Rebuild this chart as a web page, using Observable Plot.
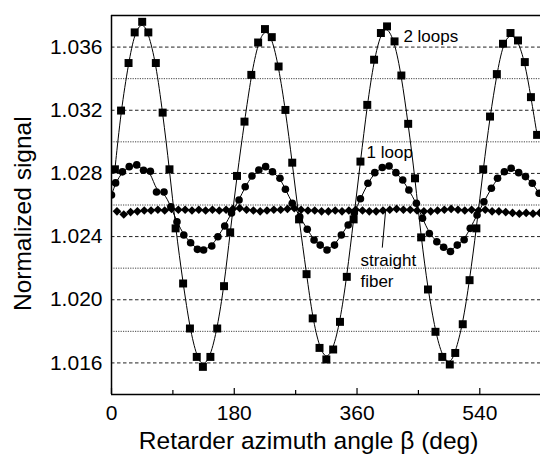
<!DOCTYPE html>
<html><head><meta charset="utf-8">
<script src="https://cdn.jsdelivr.net/npm/d3@7"></script>
<script src="https://cdn.jsdelivr.net/npm/@observablehq/plot@0.6"></script>
<style>body{margin:0;background:#fff;}</style>
</head><body><div id="chart"></div>
<script>
// 2 loops (squares)
const loop2X = [5,14,25,34,45,54,65,75,85,94,105,115,125,134,145,155,165,174,184,195,205,215,225,235,245,255,265,275,286,295,305,315,325,335,345,355,365,375,385,395,404,415,425,435,445,454,464,475,485,496,504,515,525,535,545,555,565,574,585,596,606,615,624];
const loop2Y = [1.02826,1.03198,1.03499,1.03693,1.03760,1.03693,1.03499,1.03185,1.02826,1.02452,1.02103,1.01818,1.01638,1.01575,1.01638,1.01818,1.02086,1.02427,1.02784,1.03128,1.03424,1.03629,1.03714,1.03663,1.03477,1.03202,1.02868,1.02509,1.02162,1.01882,1.01695,1.01622,1.01685,1.01860,1.02145,1.02509,1.02875,1.03234,1.03520,1.03689,1.03731,1.03636,1.03420,1.03114,1.02769,1.02395,1.02065,1.01797,1.01638,1.01590,1.01663,1.01845,1.02124,1.02452,1.02826,1.03160,1.03429,1.03621,1.03689,1.03642,1.03505,1.03283,1.03044];
// 1 loop (circles)
const loop1X = [0,6,16,26,37,47,57,66,77,87,96,106,116,126,135,147,156,166,176,187,196,206,216,226,236,247,255,265,276,287,297,306,316,327,337,347,356,365,376,386,397,407,417,427,436,447,456,466,477,487,497,507,517,526,536,546,557,566,576,586,597,607,617,627];
const loop1Y = [1.02663,1.02740,1.02810,1.02843,1.02854,1.02820,1.02814,1.02682,1.02682,1.02589,1.02494,1.02410,1.02361,1.02319,1.02315,1.02340,1.02399,1.02467,1.02550,1.02632,1.02716,1.02784,1.02822,1.02843,1.02811,1.02769,1.02700,1.02611,1.02526,1.02446,1.02378,1.02346,1.02315,1.02346,1.02410,1.02473,1.02550,1.02640,1.02738,1.02805,1.02837,1.02847,1.02805,1.02758,1.02695,1.02611,1.02516,1.02420,1.02367,1.02332,1.02306,1.02346,1.02380,1.02452,1.02537,1.02621,1.02706,1.02769,1.02811,1.02833,1.02805,1.02780,1.02738,1.02674];
// straight fiber (diamonds)
const fiberX = [8,18,28,38,48,58,68,78,88,98,108,118,128,138,148,158,168,178,188,198,208,218,228,238,248,258,268,278,288,298,308,318,328,338,348,358,368,378,388,398,408,418,428,438,448,458,468,478,488,498,508,518,528,538,548,558,568,578,588,598,608,618,628];
const fiberY = [1.02560,1.02540,1.02555,1.02560,1.02565,1.02565,1.02570,1.02565,1.02575,1.02570,1.02570,1.02565,1.02570,1.02565,1.02570,1.02565,1.02570,1.02575,1.02580,1.02570,1.02565,1.02560,1.02565,1.02570,1.02570,1.02575,1.02580,1.02570,1.02565,1.02565,1.02560,1.02560,1.02565,1.02560,1.02565,1.02570,1.02565,1.02560,1.02560,1.02565,1.02570,1.02575,1.02570,1.02570,1.02565,1.02560,1.02560,1.02565,1.02570,1.02575,1.02570,1.02565,1.02570,1.02565,1.02570,1.02560,1.02560,1.02555,1.02550,1.02545,1.02550,1.02545,1.02550];

const xMajor = [0,180,360,540];
const xMinor = [90,270,450];
const yMajor = [1.016,1.020,1.024,1.028,1.032,1.036];
const yMinor = [1.018,1.022,1.026,1.030,1.034];

const loop2 = loop2X.map((x,i)=>({x, y:loop2Y[i]}));
const loop1 = loop1X.map((x,i)=>({x, y:loop1Y[i]}));
const fiber = fiberX.map((x,i)=>({x, y:fiberY[i]}));

const labels = [
  {x:428, y:1.03665, t:"2 loops"},
  {x:374, y:1.02930, t:"1 loop"},
  {x:365, y:1.02251, t:"straight"},
  {x:365, y:1.02118, t:"fiber"}
];
const leader = [{x1:397, y1:1.02330, x2:402, y2:1.02569}];
const xTitle = [{x:289, y:1.01104, t:"Retarder azimuth angle β (deg)"}];
const yTitle = [{x:-129, y:1.02545, t:"Normalized signal"}];

const font = "'Liberation Sans', Arial, Helvetica, sans-serif";
const FH = 379; // frame height in px (459-15-65)

const chart = Plot.plot({
  width:540, height:459,
  marginLeft:111, marginRight:0, marginTop:15, marginBottom:65,
  style:{fontFamily:font, background:"#fff", color:"#000", overflow:"visible"},
  x:{domain:[0,629]},
  y:{domain:[1.014,1.038]},
  marks:[
    Plot.ruleY(yMinor, {stroke:"#444", strokeWidth:1, strokeDasharray:"1.2,1.2"}),
    Plot.ruleY(yMajor, {stroke:"#222", strokeWidth:1, strokeDasharray:"3.5,2.5"}),
    Plot.line(fiber, {x:"x", y:"y", curve:"basis", stroke:"#000", strokeWidth:1, clip:true}),
    Plot.line(loop1, {x:"x", y:"y", curve:"basis", stroke:"#000", strokeWidth:1, clip:true}),
    Plot.line(loop2, {x:"x", y:"y", curve:"basis", stroke:"#000", strokeWidth:1, clip:true}),
    Plot.dot(fiber, {x:"x", y:"y", symbol:"diamond2", r:3.9, fill:"#000", stroke:"none", clip:true}),
    Plot.dot(loop1, {x:"x", y:"y", symbol:"circle", r:3.8, fill:"#000", stroke:"none", clip:true}),
    Plot.dot(loop2, {x:"x", y:"y", symbol:"square", r:4.5, fill:"#000", stroke:"none", clip:true}),
    Plot.link(leader, {x1:"x1", y1:"y1", x2:"x2", y2:"y2", stroke:"#000", strokeWidth:1}),
    Plot.text(labels, {x:"x", y:"y", text:"t", textAnchor:"start", fontSize:17, fill:"#000"}),
    // frame
    Plot.ruleY([1.038, 1.014], {stroke:"#000", strokeWidth:1.5}),
    Plot.ruleX([0], {stroke:"#000", strokeWidth:1.5}),
    // inward x ticks
    Plot.tickX(xMajor, {x:d=>d, stroke:"#000", strokeWidth:1.2, insetTop:FH-6}),
    Plot.tickX(xMinor, {x:d=>d, stroke:"#000", strokeWidth:1.2, insetTop:FH-4}),
    Plot.axisX({ticks:xMajor, tickSize:0, tickPadding:11, fontSize:21, label:null, tickFormat:d=>String(d)}),
    Plot.axisY({ticks:yMajor, tickSize:0, tickPadding:9, fontSize:21, label:null, tickFormat:d3.format(".3f")}),
    Plot.text(xTitle, {x:"x", y:"y", text:"t", fontSize:24.5, fill:"#000", lineAnchor:"middle", clip:false}),
    Plot.text(yTitle, {x:"x", y:"y", text:"t", rotate:-90, fontSize:24.5, fill:"#000", lineAnchor:"middle", clip:false})
  ]
});
document.getElementById("chart").appendChild(chart);
</script>
</body></html>
